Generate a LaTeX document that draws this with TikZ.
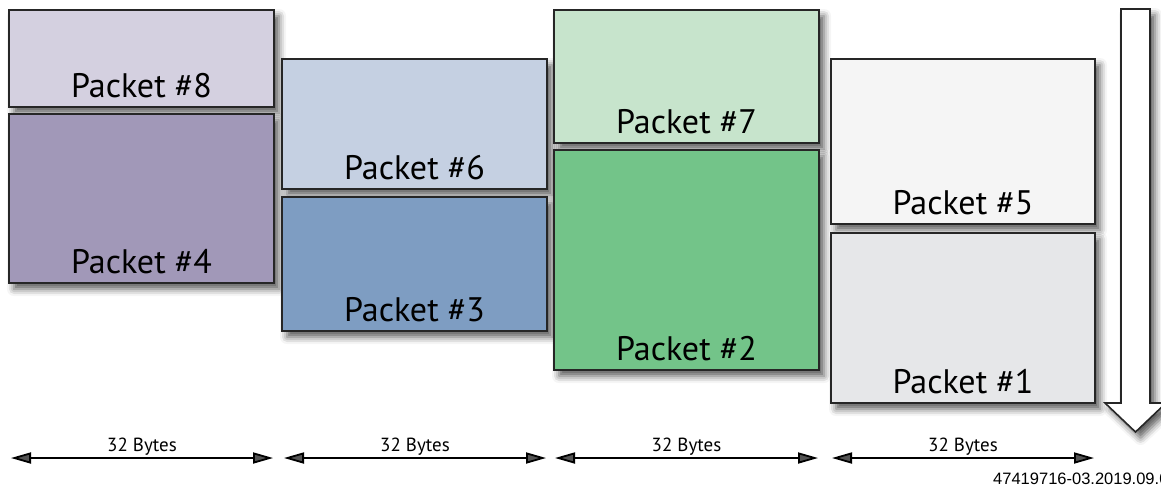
\documentclass[tikz,border=0pt]{standalone}
\usepackage{fontspec}
\setmainfont{PT Sans}
\newfontfamily\idfont{Liberation Sans}
\usetikzlibrary{shadows.blur,arrows.meta}
\definecolor{c8}{HTML}{D4D0E0}
\definecolor{c4}{HTML}{A198B8}
\definecolor{c6}{HTML}{C5D0E2}
\definecolor{c3}{HTML}{7E9DC2}
\definecolor{c7}{HTML}{C7E4CC}
\definecolor{c2}{HTML}{73C489}
\definecolor{c5}{HTML}{F5F5F5}
\definecolor{c1}{HTML}{E6E7E9}
\tikzset{
  pshadow/.style={blur shadow={shadow xshift=5pt, shadow yshift=-6pt, shadow blur radius=7pt, shadow opacity=65}},
  pbox/.style={draw=black!85, line width=1.6pt, pshadow},
  plabel/.style={anchor=base, inner sep=0pt, font=\fontsize{34}{40}\selectfont},
  dimarrow/.style={line width=1.8pt, {Triangle[length=20pt,width=11pt]}-{Triangle[length=20pt,width=11pt]}},
  dimlabel/.style={anchor=base, inner sep=0pt, font=\fontsize{19}{22}\selectfont},
}
\newcommand{\packet}[7]{%
  \path[pbox, fill=#6] (#2,#3) rectangle (#4,#5);
  \node[plabel] (#1) at ({(#2+#4)/2},{#5-10}) {#7};
}
\begin{document}
\begin{tikzpicture}[x=1pt,y=-1pt]
\useasboundingbox (0,0) rectangle (1161,493);
% column 1
\packet{p8}{9}{10}{274}{107}{c8}{Packet \#8}
\packet{p4}{9}{114}{274}{283}{c4}{Packet \#4}
% column 2
\packet{p6}{282}{59}{547}{189}{c6}{Packet \#6}
\packet{p3}{282}{197}{547}{331}{c3}{Packet \#3}
% column 3
\packet{p7}{554}{10}{819}{143}{c7}{Packet \#7}
\packet{p2}{554}{150}{819}{370}{c2}{Packet \#2}
% column 4
\packet{p5}{831}{59}{1095}{224}{c5}{Packet \#5}
\packet{p1}{831}{233}{1095}{403}{c1}{Packet \#1}
% big arrow
\path[draw=black!85, line width=1.6pt, fill=white, pshadow, line join=miter]
  (1121,9) -- (1150,9) -- (1150,403) -- (1166,403) -- (1135.5,432) -- (1105,403) -- (1121,403) -- cycle;
% dimension arrows
\coordinate (a1) at (11,458); \coordinate (b1) at (273,458);
\coordinate (a2) at (284,458); \coordinate (b2) at (546,458);
\coordinate (a3) at (555,458); \coordinate (b3) at (818,458);
\coordinate (a4) at (832,458); \coordinate (b4) at (1094,458);
\foreach \i in {1,2,3,4}{
  \draw[dimarrow] (a\i) -- (b\i);
  \node[dimlabel] (l\i) at ($(a\i)!0.5!(b\i)+(0,-7)$) {32 Bytes};
}
\node[anchor=base west, inner sep=0pt, font=\idfont\fontsize{16.5}{19}\selectfont] (id) at (993,484) {47419716-03.2019.09.06};
\end{tikzpicture}
\end{document}
